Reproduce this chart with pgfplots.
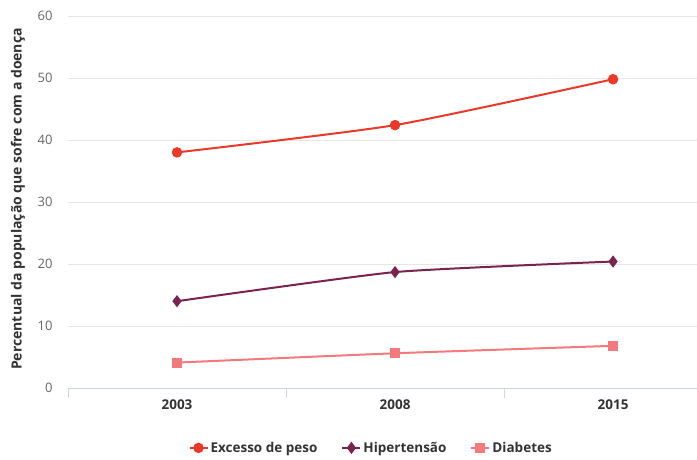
\documentclass[border=0pt]{standalone}
\usepackage{pgfplots}
\pgfplotsset{compat=1.18}
\usepackage{fontspec}
\setmainfont{Open Sans}

\definecolor{cExcesso}{HTML}{E8392B}
\definecolor{cHiper}{HTML}{7B2350}
\definecolor{cDiab}{HTML}{F27A7C}
\definecolor{gridcol}{HTML}{E6E6E6}
\definecolor{axiscol}{HTML}{CCD6EB}
\definecolor{labelcol}{HTML}{666666}
\definecolor{textcol}{HTML}{333333}

\begin{document}
\begin{tikzpicture}[x=1pt,y=1pt]
\path[use as bounding box] (-68,-72) rectangle (629,388);
\begin{axis}[
  scale only axis,
  width=629pt, height=372pt,
  at={(0,0)}, anchor=south west,
  xmin=-0.5, xmax=2.385,
  ymin=0, ymax=60,
  ytick={0,10,...,60},
  xtick={0,1,2},
  xticklabels={2003,2008,2015},
  extra x ticks={-0.5,0.5,1.5},
  extra x tick labels={},
  extra x tick style={major tick length=10pt, tick align=outside,
    tick style={color=axiscol, line width=0.8pt}},
  major tick length=0pt,
  ymajorgrids,
  grid style={gridcol, line width=0.8pt},
  axis x line*=bottom,
  axis y line*=left,
  x axis line style={axiscol, line width=0.8pt, -},
  y axis line style={draw=none},
  /pgf/number format/assume math mode=true,
  yticklabel style={font=\fontsize{13}{15}\selectfont, text=labelcol, anchor=east, xshift=-12pt},
  xticklabel style={font=\fontsize{13.5}{15}\selectfont\bfseries, text=textcol, yshift=-8pt},
  ylabel={Percentual da população que sofre com a doença},
  ylabel style={at={(axis description cs:0,0.5)}, anchor=center, yshift=50pt, xshift=3pt,
    font=\fontsize{14}{16}\selectfont\bfseries, text=textcol},
  clip=false,
  legend columns=3,
  legend style={at={(axis description cs:0.482,-0.161)}, anchor=center, draw=none, fill=none,
    font=\fontsize{13.5}{16}\selectfont\bfseries, text=textcol},
  legend cell align=left,
  legend image code/.code={%
    \draw[#1, mark repeat=2, mark phase=2] plot coordinates {(0pt,0pt) (9pt,0pt) (18pt,0pt)};},
]
\addplot[cExcesso, line width=2pt, smooth, tension=0.35, mark=*, mark size=4.2pt,
  mark options={solid, fill=cExcesso, draw=cExcesso}]
  coordinates {(0,38.0) (1,42.4) (2,49.8)};
\addlegendentry{Excesso de peso\hspace*{22pt}}
\addplot[cHiper, line width=2pt, smooth, tension=0.3, mark=diamond*, mark size=4.5pt,
  mark options={solid, fill=cHiper, draw=cHiper}]
  coordinates {(0,14.0) (1,18.7) (2,20.4)};
\addlegendentry{Hipertensão\hspace*{22pt}}
\addplot[cDiab, line width=2pt, smooth, tension=0.3, mark=square*, mark size=4pt,
  mark options={solid, fill=cDiab, draw=cDiab}]
  coordinates {(0,4.1) (1,5.6) (2,6.8)};
\addlegendentry{Diabetes}
\end{axis}
\end{tikzpicture}
\end{document}
